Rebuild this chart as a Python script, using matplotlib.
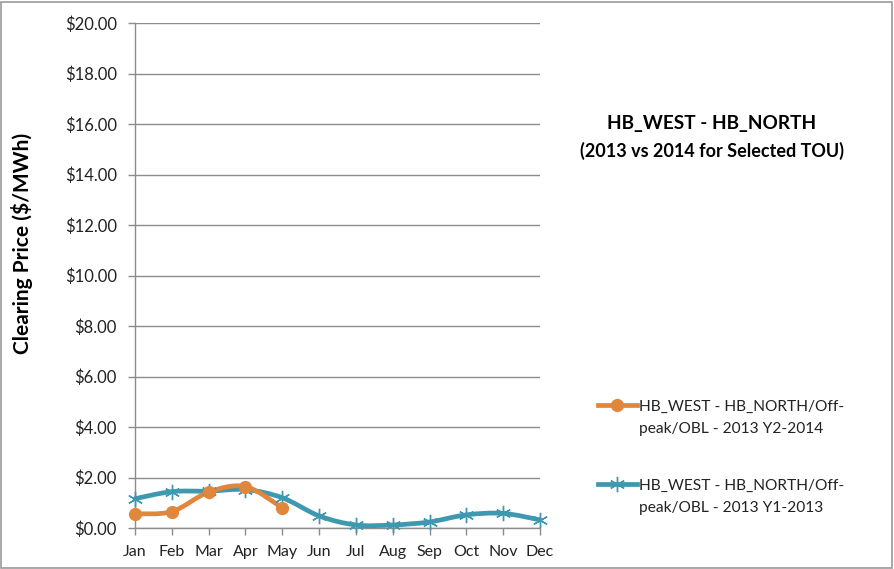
import matplotlib
matplotlib.use("Agg")
import matplotlib.pyplot as plt
import numpy as np
from matplotlib.path import Path
from matplotlib.patches import PathPatch, Rectangle
from matplotlib.lines import Line2D

plt.rcParams['font.family'] = ['Lato', 'DejaVu Sans']

# Datos
meses = ["Jan", "Feb", "Mar", "Apr", "May", "Jun", "Jul", "Aug", "Sep", "Oct", "Nov", "Dec"]
precio_2014 = [0.56, 0.65, 1.42, 1.64, 0.80]
precio_2013 = [1.16, 1.44, 1.46, 1.52, 1.20, 0.48, 0.12, 0.12, 0.24, 0.52, 0.58, 0.32]
etiqueta_2014 = "HB_WEST - HB_NORTH/Off-\npeak/OBL - 2013 Y2-2014"
etiqueta_2013 = "HB_WEST - HB_NORTH/Off-\npeak/OBL - 2013 Y1-2013"

color_2014 = "#E0873C"
color_2013 = "#3E98B0"
gris = "#8C8C8C"


def curva_suave(ax, xs, ys, color, lw):
    # curva tipo "línea suavizada" de Excel (Bezier entre puntos)
    xs = np.asarray(xs, float)
    ys = np.asarray(ys, float)
    n = len(xs)
    verts = [(xs[0], ys[0])]
    codes = [Path.MOVETO]
    for i in range(n - 1):
        x0, y0 = (xs[i - 1], ys[i - 1]) if i > 0 else (xs[i], ys[i])
        x3, y3 = (xs[i + 2], ys[i + 2]) if i + 2 < n else (xs[i + 1], ys[i + 1])
        c1 = (xs[i] + (xs[i + 1] - x0) / 6, ys[i] + (ys[i + 1] - y0) / 6)
        c2 = (xs[i + 1] - (x3 - xs[i]) / 6, ys[i + 1] - (y3 - ys[i]) / 6)
        verts += [c1, c2, (xs[i + 1], ys[i + 1])]
        codes += [Path.CURVE4] * 3
    patch = PathPatch(Path(verts, codes), facecolor="none", edgecolor=color,
                      lw=lw, capstyle="round", joinstyle="round", clip_on=False, zorder=3)
    ax.add_patch(patch)


fig = plt.figure(figsize=(8.94, 5.69), dpi=100)
ax = fig.add_axes([135 / 894, 1 - 528 / 569, 405 / 894, 505 / 569])

x13 = np.arange(len(precio_2013))
x14 = np.arange(len(precio_2014))

curva_suave(ax, x13, precio_2013, color_2013, 3.4)
ax.plot(x13, precio_2013, linestyle="none", marker=(6, 2, 0), markersize=11,
        markeredgecolor=color_2013, markeredgewidth=1.0, clip_on=False, zorder=4)
curva_suave(ax, x14, precio_2014, color_2014, 3.4)
ax.plot(x14, precio_2014, linestyle="none", marker="o", markersize=8.5,
        color=color_2014, clip_on=False, zorder=5)

ax.set_xlim(0, 11)
ax.set_ylim(0, 20)
ax.set_yticks(np.arange(0, 21, 2))
ax.set_yticklabels([f"${v:.2f}" for v in np.arange(0, 21, 2)], fontsize=12)
ax.set_xticks(x13)
ax.set_xticklabels(meses, fontsize=11.5)
ax.yaxis.grid(True, color=gris, lw=1.0)
ax.set_axisbelow(True)
for s in ["top", "right"]:
    ax.spines[s].set_visible(False)
for s in ["left", "bottom"]:
    ax.spines[s].set_color(gris)
    ax.spines[s].set_linewidth(1.0)
ax.tick_params(axis="both", colors=gris, length=5, width=1.0, labelcolor="#222222")
ax.tick_params(axis="x", pad=7)
ax.tick_params(axis="y", pad=8)

fig.text(22 / 894, 1 - 243 / 569, "Clearing Price ($/MWh)", rotation=90,
         ha="center", va="center", fontsize=15, fontweight="bold")

fig.text(712 / 894, 1 - 123 / 569, "HB_WEST - HB_NORTH", ha="center", va="center",
         fontsize=13.7, fontweight="bold")
fig.text(712 / 894, 1 - 151 / 569, "(2013 vs 2014 for Selected TOU)", ha="center",
         va="center", fontsize=13, fontweight="bold")

# Leyenda dibujada a mano (marcador alineado con la primera línea)
for y_px, col, mk, ms, lab in [(405, color_2014, "o", 8.5, etiqueta_2014),
                              (484, color_2013, (6, 2, 0), 11, etiqueta_2013)]:
    yf = 1 - y_px / 569
    fig.add_artist(Line2D([598 / 894, 637 / 894], [yf, yf], color=col, lw=3.4,
                          transform=fig.transFigure))
    fig.add_artist(Line2D([617 / 894], [yf], color=col, marker=mk, markersize=ms,
                          markeredgecolor=col, linestyle="none", transform=fig.transFigure))
    fig.text(639 / 894, yf + 5 / 569, lab, ha="left", va="top", fontsize=11.2,
             linespacing=1.75, color="#222222")

fig.add_artist(Rectangle((0.001, 0.001), 0.997, 0.995, transform=fig.transFigure,
                         facecolor="none", edgecolor="#9A9A9A", lw=1.2))

fig.savefig("out.png", dpi=100)
